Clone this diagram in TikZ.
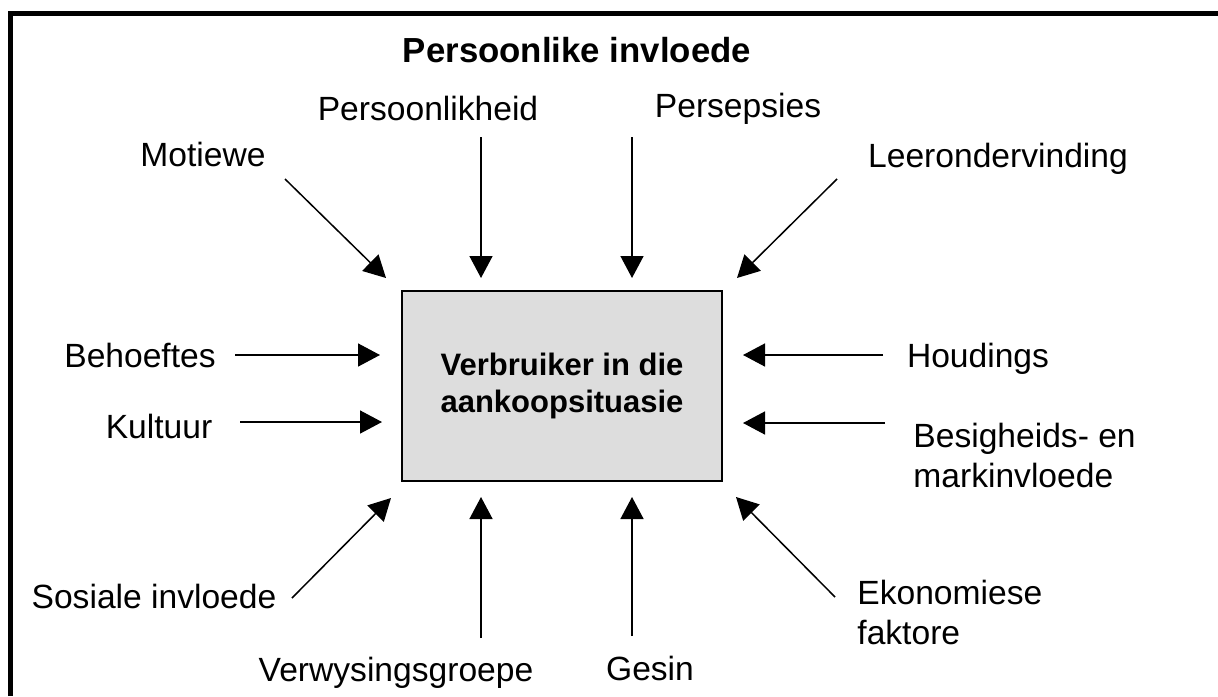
\documentclass[tikz,border=0pt]{standalone}
\usepackage{fontspec}
\setmainfont{Liberation Sans}
\usetikzlibrary{arrows.meta}
\definecolor{boxgrey}{HTML}{DDDDDD}
\begin{document}
\begin{tikzpicture}[x=0.5pt,y=-0.5pt,
  lbl/.style={inner sep=0pt,anchor=base,font=\fontsize{16.8}{20}\selectfont},
  lbl2/.style={inner sep=0pt,anchor=west,align=left,font=\fontsize{16.8}{20}\selectfont},
  infl/.style={line width=0.75pt,-{Triangle[length=11pt,width=11.5pt]}},
  frame/.style={line width=2.5pt}]
\useasboundingbox (0,0) rectangle (1218,696);

% open frame: top and left edges only
\draw[frame] (10.5,696) -- (10.5,13.5) -- (1218,13.5);

% central box
\node[draw,line width=0.75pt,fill=boxgrey,minimum width=160pt,minimum height=95pt,
      align=center,font=\fontsize{15.5}{18.5}\selectfont\bfseries]
  (cons) at (562,386) {Verbruiker in die\\aankoopsituasie};

% heading
\node[lbl,font=\fontsize{17.4}{20}\selectfont\bfseries] (title) at (577,62) {Persoonlike invloede};

% labels
\node[lbl] (mot)  at (203,166) {Motiewe};
\node[lbl] (pers) at (428,120) {Persoonlikheid};
\node[lbl] (perc) at (738,117) {Persepsies};
\node[lbl] (leer) at (998,167) {Leerondervinding};
\node[lbl] (beh)  at (140,367) {Behoeftes};
\node[lbl] (kul)  at (159,438) {Kultuur};
\node[lbl] (houd) at (978,367) {Houdings};
\node[lbl2] (bes) at (913,455) {Besigheids- en\\markinvloede};
\node[lbl] (sos)  at (154,608) {Sosiale invloede};
\node[lbl] (verw) at (396,681) {Verwysingsgroepe};
\node[lbl] (ges)  at (650,680) {Gesin};
\node[lbl2] (eko) at (857,612) {Ekonomiese\\faktore};

% arrow ends
\coordinate (mot-a)  at (285,179); \coordinate (mot-b)  at (386,278);
\coordinate (pers-a) at (481,137); \coordinate (pers-b) at (481,278);
\coordinate (perc-a) at (632,137); \coordinate (perc-b) at (632,278);
\coordinate (leer-a) at (837,179); \coordinate (leer-b) at (737,278);
\coordinate (beh-a)  at (235,355); \coordinate (beh-b)  at (380,355);
\coordinate (kul-a)  at (240,422); \coordinate (kul-b)  at (382,422);
\coordinate (houd-a) at (883,355); \coordinate (houd-b) at (743,355);
\coordinate (bes-a)  at (885,423); \coordinate (bes-b)  at (743,423);
\coordinate (sos-a)  at (292,598); \coordinate (sos-b)  at (391,498);
\coordinate (verw-a) at (481,638); \coordinate (verw-b) at (481,497);
\coordinate (ges-a)  at (632,636); \coordinate (ges-b)  at (632,497);
\coordinate (eko-a)  at (835,597); \coordinate (eko-b)  at (736,497);

\foreach \n in {mot,pers,perc,leer,beh,kul,houd,bes,sos,verw,ges,eko}
  \draw[infl] (\n-a) -- (\n-b);
\end{tikzpicture}
\end{document}
